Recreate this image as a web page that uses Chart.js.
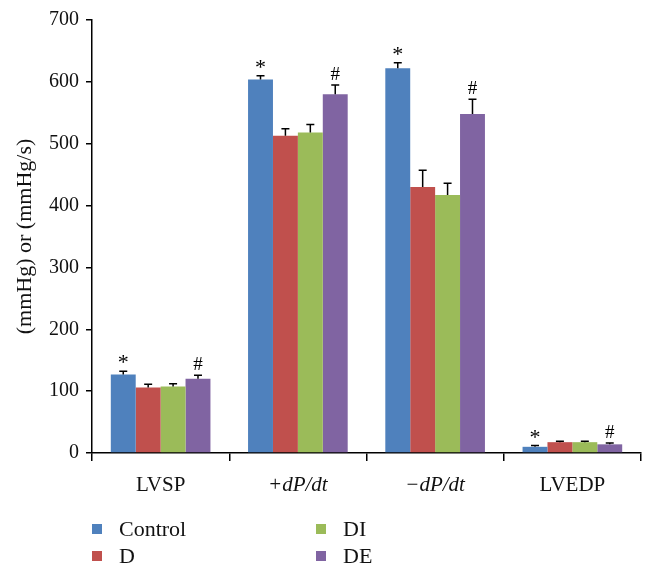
<!DOCTYPE html>
<html>
<head>
<meta charset="utf-8">
<script src="https://cdn.jsdelivr.net/npm/chart.js@4"></script>
<style>
  body { margin: 0; background: #fff; }
  #wrap { position: relative; width: 653px; height: 576px; }
  #legend { position: absolute; left: 0; top: 510px; width: 653px; height: 54px; overflow: hidden;
            font-family: "Liberation Serif", serif; font-size: 22px; color: #111; }
  .item { position: absolute; height: 27px; line-height: 27px; }
  .item span.box { position: absolute; left: 0; top: 9px; width: 10px; height: 10px; }
  .item span.txt { position: absolute; left: 27px; top: 0; white-space: nowrap; }
</style>
</head>
<body>
<div id="wrap">
  <canvas id="myChart" width="653" height="576"></canvas>
  <div id="legend"></div>
</div>
<script>
// dados
const categories = ['LVSP', '+dP/dt', '\u2212dP/dt', 'LVEDP'];
const seriesNames = ['Control', 'D', 'DI', 'DE'];
const colors = ['#4F81BD', '#C0504D', '#9BBB59', '#8064A2'];

const control = [127, 604, 622, 10];
const d = [106, 513, 430, 17.5];
const di = [107.5, 518, 417, 17.5];
const de = [120, 580, 548, 14];

// erro (SEM)
const controlErr = [5, 6, 9, 2];
const dErr = [5, 11, 27, 1.5];
const diErr = [4.5, 13, 19, 1.5];
const deErr = [5.5, 15, 24, 2];

// marcas de significancia
const controlMarks = ['*', '*', '*', '*'];
const deMarks = ['#', '#', '#', '#'];

const yTicks = [0, 100, 200, 300, 400, 500, 600, 700];

const values = [control, d, di, de];
const errors = [controlErr, dErr, diErr, deErr];
const marks = [controlMarks, null, null, deMarks];

const serif = '"Liberation Serif", serif';

// barras de erro e marcas
const errorBars = {
    id: 'errorBars',
    afterDatasetsDraw(chart) {
        const c = chart.ctx;
        const y = chart.scales.y;
        c.save();
        chart.data.datasets.forEach((ds, i) => {
            const meta = chart.getDatasetMeta(i);
            meta.data.forEach((bar, j) => {
                const top = y.getPixelForValue(values[i][j] + errors[i][j]);
                c.strokeStyle = '#000';
                c.lineWidth = 1.5;
                c.beginPath();
                c.moveTo(bar.x, bar.y);
                c.lineTo(bar.x, top);
                c.moveTo(bar.x - 4, top);
                c.lineTo(bar.x + 4, top);
                c.stroke();
                if (marks[i]) {
                    const m = marks[i][j];
                    c.fillStyle = '#000';
                    c.font = (m === '*' ? '22px ' : '19px ') + serif;
                    c.textAlign = 'center';
                    c.textBaseline = 'alphabetic';
                    c.fillText(m, bar.x, top - (m === '*' ? 2 : 5));
                }
            });
        });
        c.restore();
    }
};

const ctx = document.getElementById('myChart');

new Chart(ctx, {
    type: 'bar',
    data: {
        labels: categories,
        datasets: seriesNames.map((name, i) => ({
            label: name,
            data: values[i],
            backgroundColor: colors[i],
            borderWidth: 0,
            barPercentage: 1,
            categoryPercentage: 0.726
        }))
    },
    options: {
        responsive: false,
        animation: false,
        layout: { padding: { left: 0, top: 20, right: 12, bottom: 73 } },
        plugins: {
            legend: { display: false },
            tooltip: { enabled: false }
        },
        scales: {
            x: {
                grid: { offset: true, drawOnChartArea: false, drawTicks: true, tickLength: 8, color: '#000', lineWidth: 1.5 },
                border: { color: '#000', width: 1.5 },
                ticks: {
                    color: '#111',
                    padding: 12,
                    font: (c) => ({ family: serif, size: 21, style: (c.index === 1 || c.index === 2) ? 'italic' : 'normal' })
                },
                afterFit: (s) => { s.height = 50; }
            },
            y: {
                min: 0,
                max: 700,
                afterBuildTicks: (s) => { s.ticks = yTicks.map(v => ({ value: v })); },
                grid: { drawOnChartArea: false, drawTicks: true, tickLength: 6, color: '#000', lineWidth: 1.5 },
                border: { color: '#000', width: 1.5 },
                ticks: { color: '#111', padding: 7, font: { family: serif, size: 20 } },
                title: {
                    display: true,
                    text: '(mmHg) or (mmHg/s)',
                    color: '#111',
                    font: { family: serif, size: 22 },
                    padding: { top: 12, bottom: 0 }
                },
                afterFit: (s) => { s.width = 92; }
            }
        }
    },
    plugins: [errorBars]
});

// legenda em duas colunas
const legend = document.getElementById('legend');
const legendPos = [[92, 5], [92, 32], [316, 5], [316, 32]];
seriesNames.forEach((name, i) => {
    const it = document.createElement('div');
    it.className = 'item';
    it.style.left = legendPos[i][0] + 'px';
    it.style.top = legendPos[i][1] + 'px';
    it.innerHTML = '<span class="box" style="background:' + colors[i] + '"></span><span class="txt">' + name + '</span>';
    legend.appendChild(it);
});
</script>
</body>
</html>
